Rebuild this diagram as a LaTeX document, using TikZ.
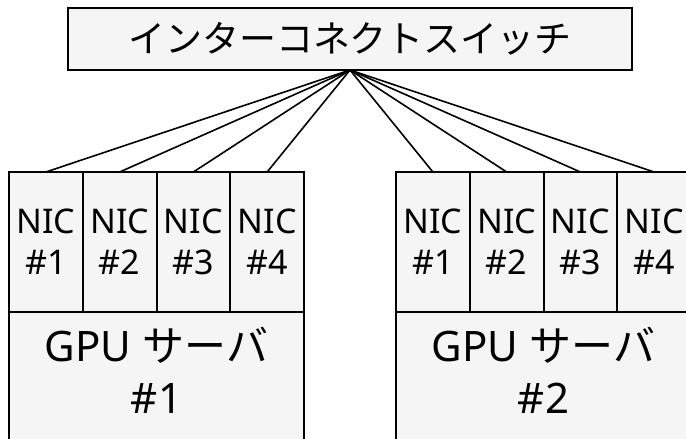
\documentclass[tikz,border=0pt]{standalone}
\usepackage{fontspec}
\setmainfont{Noto Sans}
\newfontfamily\jpfont{Noto Sans CJK JP}
\usetikzlibrary{positioning}

\definecolor{boxgray}{HTML}{F5F5F5}
\tikzset{
	box/.style={draw, fill=boxgray, line width=2pt, outer sep=0pt, inner sep=0pt},
	nic/.style={box, minimum width=73.75pt, minimum height=140pt, align=center, font=\fontsize{34}{41}\selectfont},
	gpu/.style={box, minimum width=295pt, minimum height=150pt, anchor=north west},
	gputext/.style={align=center, font=\fontsize{42}{52}\selectfont, yshift=17pt},
	link/.style={line width=1.6pt}
}

\begin{document}
\begin{tikzpicture}[x=1pt, y=-1pt]
	\useasboundingbox (0,0) rectangle (686,439);
	\clip (0,0) rectangle (686,439);

	\node[box, minimum width=564pt, minimum height=62pt, font=\fontsize{37}{44}\jpfont] (sw) at (350,39) {インターコネクトスイッチ};

	% GPU server 1
	\node[nic] (a1) at (45.9,242) {NIC\\\#1};
	\node[nic, right=0pt of a1] (a2) {NIC\\\#2};
	\node[nic, right=0pt of a2] (a3) {NIC\\\#3};
	\node[nic, right=0pt of a3] (a4) {NIC\\\#4};
	\node[gpu, label={[gputext]center:GPU {\jpfont サーバ}\\\#1}] (gpua) at (a1.south west) {};

	% GPU server 2
	\node[nic] (b1) at (432.9,242) {NIC\\\#1};
	\node[nic, right=0pt of b1] (b2) {NIC\\\#2};
	\node[nic, right=0pt of b2] (b3) {NIC\\\#3};
	\node[nic, right=0pt of b3] (b4) {NIC\\\#4};
	\node[gpu, label={[gputext]center:GPU {\jpfont サーバ}\\\#2}] (gpub) at (b1.south west) {};

	\draw[link] (sw.south) -- (a1.north);
	\draw[link] (sw.south) -- (a2.north);
	\draw[link] (sw.south) -- (a3.north);
	\draw[link] (sw.south) -- (a4.north);
	\draw[link] (sw.south) -- (b1.north);
	\draw[link] (sw.south) -- (b2.north);
	\draw[link] (sw.south) -- (b3.north);
	\draw[link] (sw.south) -- (b4.north);
\end{tikzpicture}
\end{document}
